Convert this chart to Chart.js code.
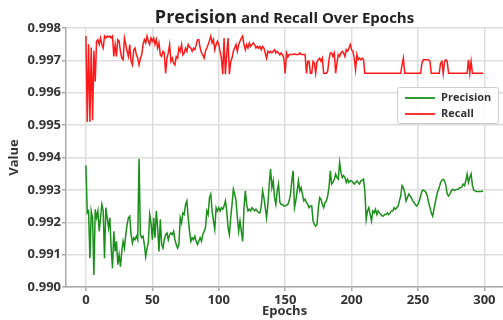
<!DOCTYPE html>
<html>
<head>
<meta charset="utf-8">
<title>Precision and Recall Over Epochs</title>
<script src="https://cdn.jsdelivr.net/npm/chart.js@4/dist/chart.umd.min.js"></script>
<style>
  html, body { margin: 0; padding: 0; background: #fff; }
  #wrap { width: 503px; height: 320px; }
</style>
</head>
<body>
<div id="wrap"><canvas id="chart" width="503" height="320"></canvas></div>
<script>
// values
var precision = [
  0.99375, 0.99229, 0.99235, 0.99089, 0.99235, 0.99214, 0.99037, 0.99240, 0.99214, 0.99235,
  0.99172, 0.99214, 0.99255, 0.99235, 0.99089, 0.99245, 0.99214, 0.99183, 0.99214, 0.99120,
  0.99058, 0.99172, 0.99110, 0.99141, 0.99069, 0.99100, 0.99063, 0.99110, 0.99141, 0.99120,
  0.99162, 0.99193, 0.99214, 0.99219, 0.99162, 0.99136, 0.99152, 0.99146, 0.99157, 0.99146,
  0.99396, 0.99162, 0.99152, 0.99157, 0.99131, 0.99094, 0.99120, 0.99136, 0.99224, 0.99198,
  0.99146, 0.99214, 0.99152, 0.99235, 0.99183, 0.99110, 0.99209, 0.99131, 0.99120, 0.99146,
  0.99162, 0.99167, 0.99146, 0.99162, 0.99167, 0.99162, 0.99172, 0.99146, 0.99131, 0.99120,
  0.99131, 0.99214, 0.99198, 0.99229, 0.99224, 0.99255, 0.99266, 0.99214, 0.99172, 0.99141,
  0.99152, 0.99146, 0.99157, 0.99141, 0.99131, 0.99141, 0.99152, 0.99141, 0.99162, 0.99172,
  0.99183, 0.99235, 0.99224, 0.99276, 0.99287, 0.99235, 0.99204, 0.99178, 0.99245, 0.99235,
  0.99245, 0.99235, 0.99245, 0.99240, 0.99250, 0.99266, 0.99235, 0.99183, 0.99162, 0.99214,
  0.99255, 0.99302, 0.99287, 0.99266, 0.99214, 0.99172, 0.99204, 0.99172, 0.99141, 0.99245,
  0.99297, 0.99255, 0.99235, 0.99240, 0.99235, 0.99245, 0.99240, 0.99235, 0.99240, 0.99235,
  0.99229, 0.99229, 0.99250, 0.99297, 0.99276, 0.99245, 0.99214, 0.99255, 0.99318, 0.99364,
  0.99307, 0.99328, 0.99276, 0.99255, 0.99297, 0.99318, 0.99261, 0.99255, 0.99255, 0.99250,
  0.99250, 0.99253, 0.99255, 0.99266, 0.99287, 0.99328, 0.99359, 0.99245, 0.99266, 0.99297,
  0.99328, 0.99297, 0.99307, 0.99287, 0.99266, 0.99271, 0.99261, 0.99255, 0.99245, 0.99250,
  0.99250, 0.99204, 0.99193, 0.99188, 0.99193, 0.99245, 0.99276, 0.99271, 0.99255, 0.99245,
  0.99261, 0.99266, 0.99281, 0.99307, 0.99359, 0.99318, 0.99323, 0.99333, 0.99349, 0.99338,
  0.99333, 0.99385, 0.99354, 0.99338, 0.99344, 0.99338, 0.99323, 0.99333, 0.99323, 0.99328,
  0.99328, 0.99323, 0.99318, 0.99323, 0.99328, 0.99323, 0.99318, 0.99328, 0.99330, 0.99333,
  0.99297, 0.99209, 0.99235, 0.99245, 0.99224, 0.99204, 0.99235, 0.99229, 0.99240, 0.99224,
  0.99235, 0.99229, 0.99224, 0.99219, 0.99219, 0.99224, 0.99224, 0.99229, 0.99224, 0.99229,
  0.99235, 0.99235, 0.99245, 0.99240, 0.99245, 0.99250, 0.99266, 0.99281, 0.99313, 0.99307,
  0.99292, 0.99266, 0.99276, 0.99287, 0.99281, 0.99276, 0.99266, 0.99261, 0.99255, 0.99250,
  0.99255, 0.99266, 0.99281, 0.99297, 0.99299, 0.99297, 0.99292, 0.99281, 0.99261, 0.99245,
  0.99229, 0.99219, 0.99240, 0.99261, 0.99281, 0.99297, 0.99307, 0.99323, 0.99330, 0.99333,
  0.99328, 0.99313, 0.99287, 0.99281, 0.99287, 0.99297, 0.99302, 0.99299, 0.99299, 0.99301,
  0.99302, 0.99305, 0.99307, 0.99309, 0.99318, 0.99313, 0.99328, 0.99349, 0.99323, 0.99338,
  0.99349, 0.99313, 0.99299, 0.99297, 0.99295, 0.99295, 0.99295, 0.99295, 0.99295, 0.99297
];

var recall = [
  0.99775, 0.99510, 0.99750, 0.99510, 0.99740, 0.99515, 0.99730, 0.99634, 0.99759, 0.99764,
  0.99749, 0.99769, 0.99749, 0.99738, 0.99775, 0.99769, 0.99775, 0.99772, 0.99775, 0.99769,
  0.99775, 0.99712, 0.99749, 0.99712, 0.99764, 0.99759, 0.99728, 0.99707, 0.99702, 0.99769,
  0.99749, 0.99728, 0.99712, 0.99749, 0.99697, 0.99686, 0.99733, 0.99738, 0.99717, 0.99707,
  0.99686, 0.99707, 0.99717, 0.99749, 0.99764, 0.99754, 0.99775, 0.99759, 0.99749, 0.99769,
  0.99759, 0.99769, 0.99749, 0.99764, 0.99738, 0.99754, 0.99717, 0.99712, 0.99728, 0.99723,
  0.99660, 0.99707, 0.99723, 0.99749, 0.99697, 0.99707, 0.99692, 0.99686, 0.99712, 0.99707,
  0.99738, 0.99728, 0.99749, 0.99717, 0.99723, 0.99738, 0.99728, 0.99749, 0.99741, 0.99738,
  0.99728, 0.99738, 0.99733, 0.99747, 0.99764, 0.99764, 0.99738, 0.99723, 0.99717, 0.99707,
  0.99728, 0.99738, 0.99749, 0.99761, 0.99775, 0.99754, 0.99764, 0.99733, 0.99749, 0.99759,
  0.99749, 0.99728, 0.99707, 0.99657, 0.99769, 0.99657, 0.99717, 0.99769, 0.99657, 0.99697,
  0.99707, 0.99728, 0.99738, 0.99749, 0.99728, 0.99749, 0.99759, 0.99769, 0.99775, 0.99749,
  0.99733, 0.99749, 0.99738, 0.99754, 0.99743, 0.99749, 0.99754, 0.99749, 0.99738, 0.99743,
  0.99738, 0.99743, 0.99733, 0.99743, 0.99738, 0.99723, 0.99707, 0.99728, 0.99723, 0.99728,
  0.99723, 0.99728, 0.99733, 0.99723, 0.99728, 0.99723, 0.99717, 0.99723, 0.99717, 0.99707,
  0.99660, 0.99723, 0.99710, 0.99718, 0.99718, 0.99718, 0.99718, 0.99720, 0.99718, 0.99718,
  0.99718, 0.99723, 0.99718, 0.99718, 0.99718, 0.99718, 0.99660, 0.99697, 0.99697, 0.99660,
  0.99660, 0.99697, 0.99692, 0.99660, 0.99697, 0.99702, 0.99707, 0.99697, 0.99707, 0.99660,
  0.99660, 0.99660, 0.99666, 0.99702, 0.99723, 0.99723, 0.99712, 0.99723, 0.99660, 0.99692,
  0.99718, 0.99712, 0.99723, 0.99728, 0.99723, 0.99712, 0.99733, 0.99728, 0.99738, 0.99749,
  0.99733, 0.99728, 0.99707, 0.99671, 0.99718, 0.99702, 0.99707, 0.99702, 0.99707, 0.99702,
  0.99660, 0.99660, 0.99660, 0.99660, 0.99660, 0.99660, 0.99660, 0.99660, 0.99660, 0.99660,
  0.99660, 0.99660, 0.99660, 0.99660, 0.99660, 0.99660, 0.99660, 0.99660, 0.99660, 0.99660,
  0.99660, 0.99660, 0.99660, 0.99660, 0.99660, 0.99660, 0.99660, 0.99660, 0.99686, 0.99707,
  0.99660, 0.99660, 0.99660, 0.99660, 0.99660, 0.99660, 0.99660, 0.99660, 0.99660, 0.99660,
  0.99660, 0.99660, 0.99660, 0.99692, 0.99702, 0.99702, 0.99702, 0.99702, 0.99702, 0.99697,
  0.99660, 0.99660, 0.99660, 0.99660, 0.99660, 0.99660, 0.99660, 0.99692, 0.99697, 0.99660,
  0.99697, 0.99702, 0.99697, 0.99660, 0.99660, 0.99660, 0.99660, 0.99660, 0.99660, 0.99660,
  0.99660, 0.99660, 0.99660, 0.99660, 0.99660, 0.99660, 0.99660, 0.99660, 0.99702, 0.99660,
  0.99697, 0.99660, 0.99660, 0.99660, 0.99660, 0.99660, 0.99660, 0.99660, 0.99660, 0.99660
];

// epoch numbers 0..299, one per value
var epochs = precision.map(function (v, i) { return i; });

var xTicks = [0, 50, 100, 150, 200, 250, 300];
var yTicks = [0.990, 0.991, 0.992, 0.993, 0.994, 0.995, 0.996, 0.997, 0.998];

var FONT = '"Open Sans", "DejaVu Sans", sans-serif';
var TEXT = '#333333';

// title with a bigger first word, like the original
var titlePlugin = {
    id: 'mixedTitle',
    afterDraw: function (chart) {
        var ctx = chart.ctx;
        var area = chart.chartArea;
        var big = 'Precision';
        var rest = ' and Recall Over Epochs';
        ctx.save();
        ctx.fillStyle = '#222222';
        ctx.textBaseline = 'alphabetic';
        ctx.font = 'bold 18px ' + FONT;
        var w1 = ctx.measureText(big).width;
        ctx.font = 'bold 15px ' + FONT;
        var w2 = ctx.measureText(rest).width;
        var x = (area.left + area.right) / 2 - (w1 + w2) / 2;
        ctx.textAlign = 'left';
        ctx.font = 'bold 18px ' + FONT;
        ctx.fillText(big, x, 22.5);
        ctx.font = 'bold 15px ' + FONT;
        ctx.fillText(rest, x + w1, 22.5);
        ctx.restore();
    }
};

// legend box drawn inside the plot, upper right
var legendPlugin = {
    id: 'boxLegend',
    afterDraw: function (chart) {
        var ctx = chart.ctx;
        var area = chart.chartArea;
        var w = 101, h = 36;
        var left = area.right - w - 5;
        var top = area.top + 59;
        ctx.save();
        ctx.fillStyle = 'rgba(255,255,255,0.9)';
        ctx.strokeStyle = '#cccccc';
        ctx.lineWidth = 1;
        ctx.beginPath();
        ctx.roundRect(left + 0.5, top + 0.5, w, h, 2);
        ctx.fill();
        ctx.stroke();
        ctx.font = 'bold 11px ' + FONT;
        ctx.textBaseline = 'middle';
        ctx.textAlign = 'left';
        chart.data.datasets.forEach(function (ds, i) {
            var y = top + 11 + i * 16;
            ctx.strokeStyle = ds.borderColor;
            ctx.lineWidth = 1.8;
            ctx.beginPath();
            ctx.moveTo(left + 8, y);
            ctx.lineTo(left + 38, y);
            ctx.stroke();
            ctx.fillStyle = TEXT;
            ctx.fillText(ds.label, left + 44, y);
        });
        ctx.restore();
    }
};

var ctx = document.getElementById('chart').getContext('2d');

var myChart = new Chart(ctx, {
    type: 'line',
    data: {
        labels: epochs,
        datasets: [
            {
                label: 'Precision',
                data: precision,
                borderColor: '#1a8f1a',
                borderWidth: 1.5,
                pointRadius: 0,
                tension: 0,
                fill: false
            },
            {
                label: 'Recall',
                data: recall,
                borderColor: '#ff1a1a',
                borderWidth: 1.5,
                pointRadius: 0,
                tension: 0,
                fill: false
            }
        ]
    },
    options: {
        responsive: false,
        animation: false,
        layout: { padding: { top: 28, right: 0, bottom: 0, left: 0 } },
        plugins: {
            legend: { display: false },
            title: { display: false },
            tooltip: { enabled: false }
        },
        scales: {
            x: {
                type: 'linear',
                min: -15,
                max: 314,
                afterBuildTicks: function (scale) {
                    scale.ticks = xTicks.map(function (v) { return { value: v }; });
                },
                afterFit: function (scale) { scale.height = 33; },
                grid: { color: '#dddddd', lineWidth: 1.5, tickLength: 4, tickColor: '#aaaaaa' },
                border: { display: true, color: '#aaaaaa', width: 1.5 },
                ticks: {
                    color: TEXT,
                    padding: 1,
                    maxRotation: 0,
                    font: { family: FONT, size: 13, weight: 'bold' }
                },
                title: {
                    display: true,
                    text: 'Epochs',
                    color: TEXT,
                    padding: { top: 0, bottom: 1 },
                    font: { family: FONT, size: 13, weight: 'bold' }
                }
            },
            y: {
                min: 0.990,
                max: 0.998,
                afterBuildTicks: function (scale) {
                    scale.ticks = yTicks.map(function (v) { return { value: v }; });
                },
                afterFit: function (scale) { scale.width = 66; },
                grid: { color: '#dddddd', lineWidth: 1.5, tickLength: 4, tickColor: '#aaaaaa' },
                border: { display: true, color: '#aaaaaa', width: 1.5 },
                ticks: {
                    color: TEXT,
                    padding: 1,
                    font: { family: FONT, size: 13, weight: 'bold' },
                    callback: function (v) { return Number(v).toFixed(3); }
                },
                title: {
                    display: true,
                    text: 'Value',
                    color: TEXT,
                    padding: { top: 6, bottom: 0 },
                    font: { family: FONT, size: 13, weight: 'bold' }
                }
            }
        }
    },
    plugins: [titlePlugin, legendPlugin]
});
</script>
</body>
</html>
